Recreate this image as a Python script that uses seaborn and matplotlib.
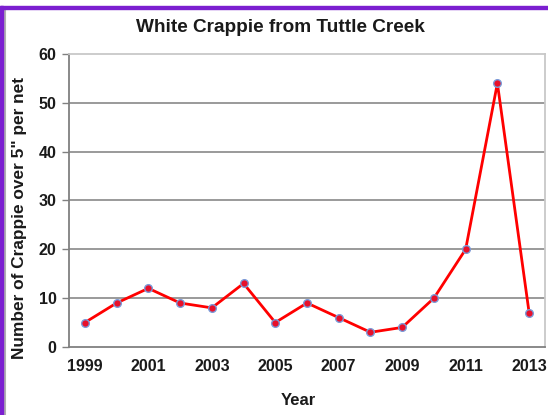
import matplotlib
matplotlib.use('Agg')
import matplotlib.pyplot as plt
import matplotlib.patches as mpatches
from matplotlib.lines import Line2D
import seaborn as sns
import pandas as pd

# data
years = [1999, 2000, 2001, 2002, 2003, 2004, 2005, 2006, 2007, 2008, 2009, 2010, 2011, 2012, 2013]
crappie = [5, 9, 12, 9, 8, 13, 5, 9, 6, 3, 4, 10, 20, 54, 7]
year_labels = [1999, 2001, 2003, 2005, 2007, 2009, 2011, 2013]
y_ticks = [0, 10, 20, 30, 40, 50, 60]

df = pd.DataFrame({'Year': years, 'Crappie': crappie})

sns.set_style('white')
plt.rcParams['font.family'] = ['Liberation Sans', 'DejaVu Sans']

fig = plt.figure(figsize=(5.48, 4.15), dpi=100)
ax = fig.add_axes([0.126, 0.164, 0.9945 - 0.126, 0.870 - 0.164])

# gridlines
for v in y_ticks[1:-1]:
    ax.axhline(v, color='#9a9a9a', lw=1.4, zorder=1)

sns.lineplot(data=df, x='Year', y='Crappie', ax=ax, color='#ff0000', lw=2,
             marker='o', markersize=5.5, markerfacecolor='#e8102a',
             markeredgecolor='#7a9ad8', markeredgewidth=1.0, zorder=3)

ax.set_xlim(1998.5, 2013.5)
ax.set_ylim(0, 60)
ax.set_yticks(y_ticks)
ax.set_xticks(year_labels)
ax.set_xticks([1998.5 + k for k in range(16)], minor=True)
ax.tick_params(axis='x', which='major', length=0, pad=9, labelsize=11.5)
ax.tick_params(axis='x', which='minor', length=5, width=1, color='#808080', direction='out')
ax.tick_params(axis='y', which='major', length=5, width=1, color='#808080', direction='out',
               labelsize=11.5, pad=4, left=True)
for lab in ax.get_xticklabels() + ax.get_yticklabels():
    lab.set_fontweight('bold')
    lab.set_color('#1a1a1a')

ax.spines['left'].set_color('#808080')
ax.spines['bottom'].set_color('#808080')
ax.spines['top'].set_color('#c8c8c8')
ax.spines['right'].set_color('#c8c8c8')
for s in ax.spines.values():
    s.set_linewidth(1.3)

ax.set_xlabel('Year', fontsize=12, fontweight='bold', color='#1a1a1a')
ax.xaxis.set_label_coords(0.481, -0.156)
ax.set_ylabel('Number of Crappie over 5" per net', fontsize=12.4, fontweight='bold',
              color='#1a1a1a')
ax.yaxis.set_label_coords(-0.105, 0.44)
ax.yaxis.label.set_va('center')
fig.text(0.511, 0.934, 'White Crappie from Tuttle Creek', ha='center', va='center',
         fontsize=13.7, fontweight='bold', color='#1a1a1a')

# frame decoration like the original screenshot
fig.patches.append(mpatches.Rectangle((0, 1 - 9 / 415), 1, 3 / 415, transform=fig.transFigure,
                                      color='#7b1fd0', zorder=10))
fig.patches.append(mpatches.Rectangle((0, 0), 2.5 / 548, 1 - 6 / 415, transform=fig.transFigure,
                                      color='#7b1fd0', zorder=10))
fig.lines.append(Line2D([4.5 / 548, 4.5 / 548], [0, 1 - 9 / 415], transform=fig.transFigure,
                        color='#b0b0b0', lw=1.5))

fig.savefig('out.png', dpi=100, facecolor='white')
